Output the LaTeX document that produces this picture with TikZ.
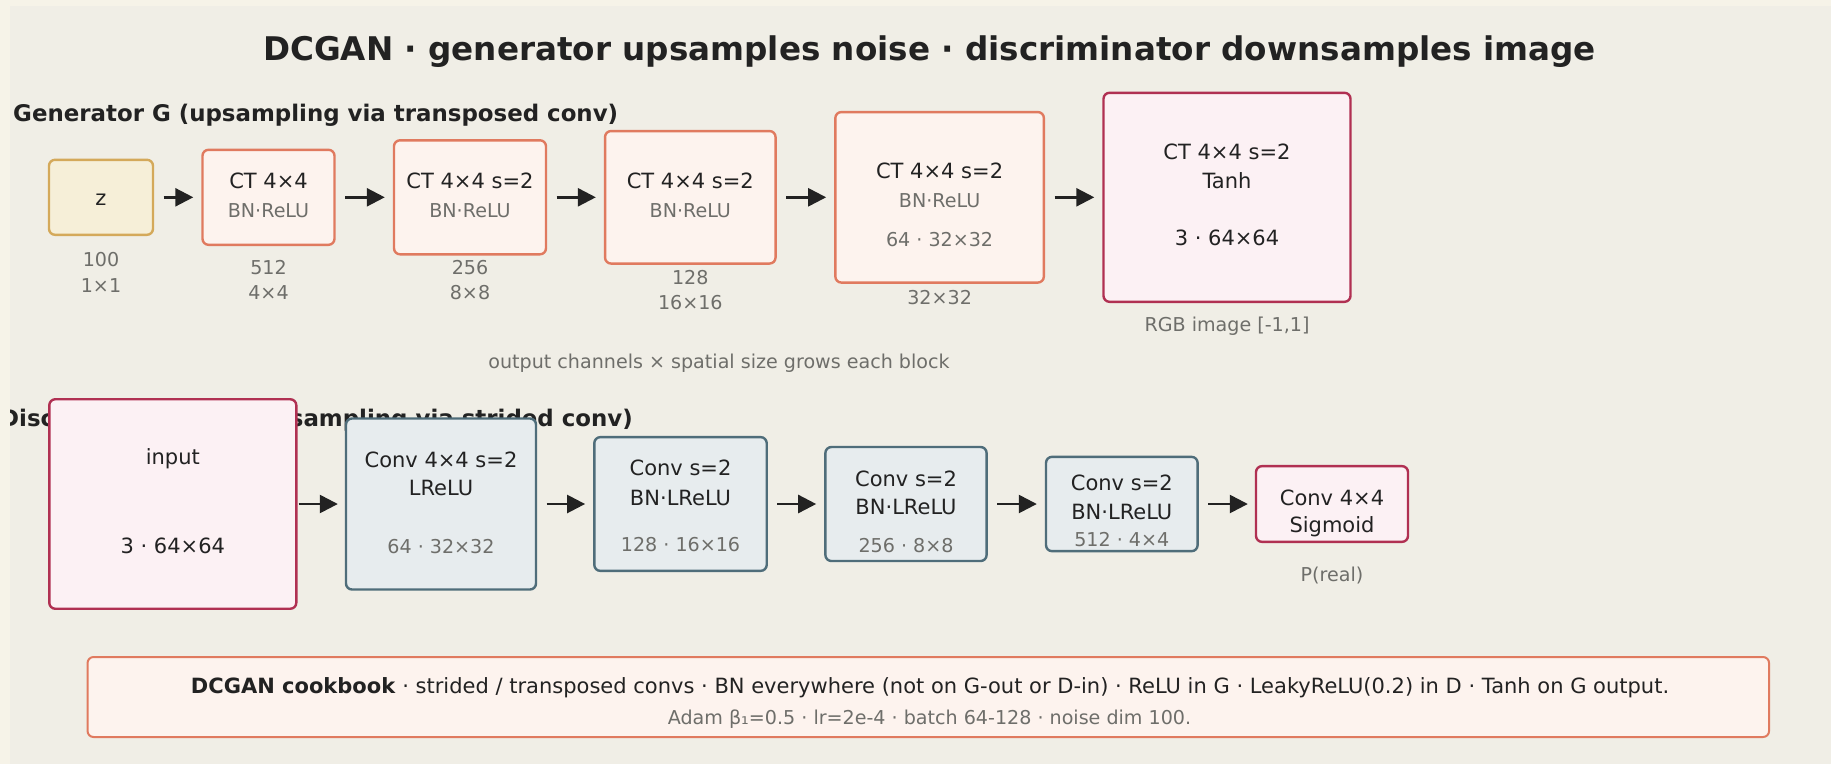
\documentclass[tikz,border=0pt]{standalone}
\usepackage{fontspec}
\setmainfont{DejaVu Sans}
\usetikzlibrary{arrows.meta}

\definecolor{pagebg}{HTML}{F6F3E8}
\definecolor{panelbg}{HTML}{F0EEE6}
\definecolor{ink}{HTML}{222222}
\definecolor{muted}{HTML}{6E6E6A}
\definecolor{terra}{HTML}{E07A5F}
\definecolor{terrafill}{HTML}{FDF3EE}
\definecolor{sand}{HTML}{D4A95A}
\definecolor{sandfill}{HTML}{F6EFD8}
\definecolor{crimson}{HTML}{B03052}
\definecolor{crimsonfill}{HTML}{FCF1F4}
\definecolor{slate}{HTML}{4F6D7A}
\definecolor{slatefill}{HTML}{E7ECEE}

\tikzset{
  blockbox/.style={draw, rounded corners=6pt, line width=2.4pt, inner sep=0pt},
  genbox/.style={blockbox, draw=terra, fill=terrafill},
  noisebox/.style={blockbox, draw=sand, fill=sandfill},
  imgbox/.style={blockbox, draw=crimson, fill=crimsonfill},
  discbox/.style={blockbox, draw=slate, fill=slatefill},
  notebox/.style={blockbox, draw=terra, fill=terrafill, line width=2pt},
  maintxt/.style={font=\fontsize{21}{24}\selectfont, text=ink, anchor=base, inner sep=0pt},
  subtxt/.style={font=\fontsize{19.1}{22}\selectfont, text=muted, anchor=base, inner sep=0pt},
  headtxt/.style={font=\bfseries\fontsize{22.9}{27}\selectfont, text=ink, inner sep=0pt},
  arr/.style={line width=2.5pt, draw=ink, -{Triangle[length=18pt,width=18pt]}},
}

\begin{document}
\begin{tikzpicture}[x=1pt,y=-1pt]
\useasboundingbox (0,0) rectangle (1831,764);
\fill[pagebg] (0,0) rectangle (1831,764);
\fill[panelbg] (10,6) rectangle (1831,764);

\begin{scope}
\clip (10,6) rectangle (1831,764);

% title and row headers
\node[font=\bfseries\fontsize{32.6}{38}\selectfont, text=ink, anchor=base, inner sep=0pt] (title) at (929.5,60.7)
  {DCGAN · generator upsamples noise · discriminator downsamples image};
\node[headtxt, anchor=base west] (ghead) at (13,121.7) {Generator G (upsampling via transposed conv)};
\node[headtxt, anchor=base east] (dhead) at (633,426.7) {Discriminator D (downsampling via strided conv)};

% generator blocks
\node[noisebox, minimum width=104, minimum height=75] (z) at (101,197.3) {};
\node[genbox, minimum width=132, minimum height=95] (g1) at (268.5,197.3) {};
\node[genbox, minimum width=152, minimum height=114] (g2) at (470,197.3) {};
\node[genbox, minimum width=170.5, minimum height=132.5] (g3) at (690.3,197.3) {};
\node[genbox, minimum width=208.5, minimum height=170.5] (g4) at (939.6,197.3) {};
\node[imgbox, minimum width=247, minimum height=209] (g5) at (1227,197.3) {};

\node[maintxt] (zt) at (101,205) {z};
\node[maintxt] (g1a) at (268.5,188.3) {CT 4×4};
\node[subtxt] (g1b) at (268.5,217.3) {BN·ReLU};
\node[maintxt] (g2a) at (470,188.3) {CT 4×4 s=2};
\node[subtxt] (g2b) at (470,217.3) {BN·ReLU};
\node[maintxt] (g3a) at (690.3,188.3) {CT 4×4 s=2};
\node[subtxt] (g3b) at (690.3,217.3) {BN·ReLU};
\node[maintxt] (g4a) at (939.6,178.7) {CT 4×4 s=2};
\node[subtxt] (g4b) at (939.6,207.7) {BN·ReLU};
\node[subtxt] (g4c) at (939.6,246) {64 · 32×32};
\node[maintxt] (g5a) at (1227,159) {CT 4×4 s=2};
\node[maintxt] (g5b) at (1227,188.3) {Tanh};
\node[maintxt] (g5c) at (1227,245.7) {3 · 64×64};

% sizes under the generator blocks
\node[subtxt] (zl1) at (101,266.7) {100};
\node[subtxt] (zl2) at (101,292.5) {1×1};
\node[subtxt] (g1l1) at (268.5,274.8) {512};
\node[subtxt] (g1l2) at (268.5,299.8) {4×4};
\node[subtxt] (g2l1) at (470,274.8) {256};
\node[subtxt] (g2l2) at (470,299.8) {8×8};
\node[subtxt] (g3l1) at (690.3,284) {128};
\node[subtxt] (g3l2) at (690.3,309.6) {16×16};
\node[subtxt] (g4l1) at (939.6,304) {32×32};
\node[subtxt] (g5l1) at (1227,331) {RGB image [-1,1]};

\node[subtxt] (gnote) at (719,368.5) {output channels × spatial size grows each block};

\draw[arr, shorten <=9.5pt, shorten >=8pt] (z) -- (g1);
\draw[arr, shorten <=9.5pt, shorten >=8pt] (g1) -- (g2);
\draw[arr, shorten <=9.5pt, shorten >=8pt] (g2) -- (g3);
\draw[arr, shorten <=9.5pt, shorten >=8pt] (g3) -- (g4);
\draw[arr, shorten <=9.5pt, shorten >=8pt] (g4) -- (g5);

% discriminator blocks
\node[imgbox, minimum width=247, minimum height=209.5] (x) at (172.8,504) {};
\node[discbox, minimum width=190, minimum height=171] (d1) at (441,504) {};
\node[discbox, minimum width=172.4, minimum height=133.7] (d2) at (680.5,504) {};
\node[discbox, minimum width=161.2, minimum height=114] (d3) at (906,504) {};
\node[discbox, minimum width=151.6, minimum height=94.3] (d4) at (1121.8,504) {};
\node[imgbox, minimum width=152, minimum height=75.7] (d5) at (1332,504) {};

\node[maintxt] (xa) at (172.8,464) {input};
\node[maintxt] (xb) at (172.8,553.3) {3 · 64×64};
\node[maintxt] (d1a) at (441,467.3) {Conv 4×4 s=2};
\node[maintxt] (d1b) at (441,495) {LReLU};
\node[subtxt] (d1c) at (441,553.3) {64 · 32×32};
\node[maintxt] (d2a) at (680.5,475.7) {Conv s=2};
\node[maintxt] (d2b) at (680.5,505) {BN·LReLU};
\node[subtxt] (d2c) at (680.5,551.7) {128 · 16×16};
\node[maintxt] (d3a) at (906,486) {Conv s=2};
\node[maintxt] (d3b) at (906,514) {BN·LReLU};
\node[subtxt] (d3c) at (906,552) {256 · 8×8};
\node[maintxt] (d4a) at (1121.8,490.7) {Conv s=2};
\node[maintxt] (d4b) at (1121.8,519) {BN·LReLU};
\node[subtxt] (d4c) at (1121.8,546.7) {512 · 4×4};
\node[maintxt] (d5a) at (1332,505) {Conv 4×4};
\node[maintxt] (d5b) at (1332,532.6) {Sigmoid};
\node[subtxt] (d5l) at (1332,581) {P(real)};

\draw[arr, shorten <=1pt, shorten >=7pt] (x) -- (d1);
\draw[arr, shorten <=9.5pt, shorten >=8pt] (d1) -- (d2);
\draw[arr, shorten <=9.5pt, shorten >=8pt] (d2) -- (d3);
\draw[arr, shorten <=9.5pt, shorten >=8pt] (d3) -- (d4);
\draw[arr, shorten <=9.5pt, shorten >=7pt] (d4) -- (d5);

% training recipe
\node[notebox, minimum width=1681.5, minimum height=80] (recipe) at (928.3,697) {};
\node[font=\fontsize{21}{24}\selectfont, text=ink, anchor=base, inner sep=0pt] (r1) at (930,693.8)
  {\textbf{DCGAN cookbook} · strided / transposed convs · BN everywhere (not on G-out or D-in) · ReLU in G · LeakyReLU(0.2) in D · Tanh on G output.};
\node[subtxt] (r2) at (929.5,724.5) {Adam β₁=0.5 · lr=2e-4 · batch 64-128 · noise dim 100.};
\end{scope}
\end{tikzpicture}
\end{document}
